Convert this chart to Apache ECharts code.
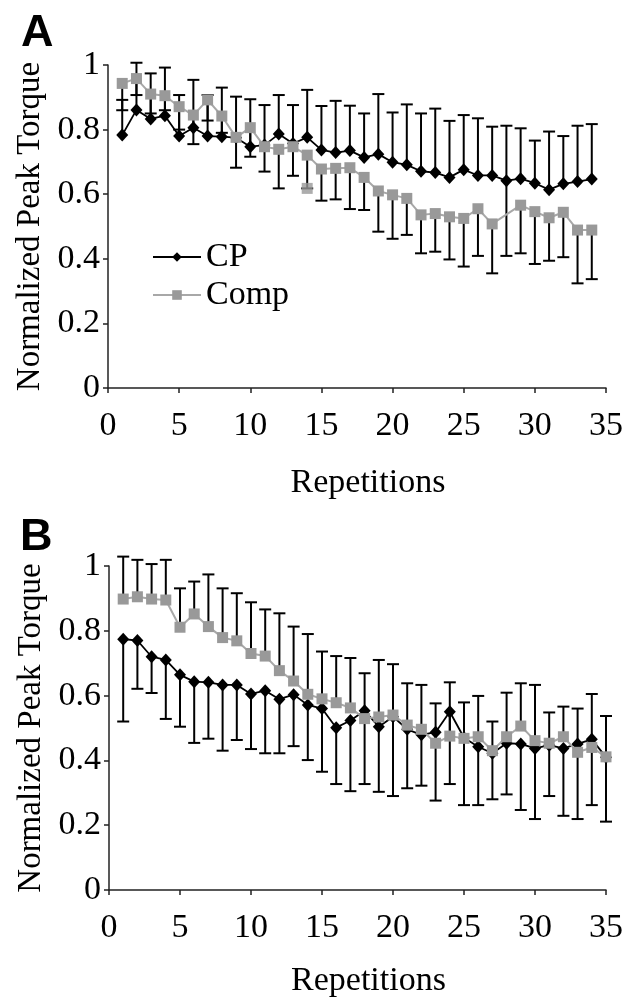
<!DOCTYPE html>
<html>
<head>
<meta charset="utf-8">
<script src="https://cdn.jsdelivr.net/npm/echarts@6/dist/echarts.min.js"></script>
<style>
  html, body { margin: 0; padding: 0; background: #fff; }
  #chart { width: 638px; height: 1005px; }
</style>
</head>
<body>
<div id="chart"></div>
<script>
// panel A data
const repsA = [1,2,3,4,5,6,7,8,9,10,11,12,13,14,15,16,17,18,19,20,21,22,23,24,25,26,27,28,29,30,31,32,33,34];
const cpA = [0.783,0.861,0.833,0.843,0.780,0.806,0.780,0.778,0.775,0.747,0.752,0.786,0.757,0.776,0.737,0.729,0.735,0.714,0.724,0.699,
  0.691,0.671,0.667,0.652,0.676,0.658,0.658,0.642,0.648,0.634,0.614,0.632,0.639,0.647];
const cpHiA = [0.892,1.007,0.974,0.992,0.907,0.954,0.907,0.930,0.902,0.894,0.876,0.907,0.876,0.923,0.873,0.889,0.874,0.850,0.910,0.853,
  0.878,0.850,0.865,0.827,0.845,0.835,0.809,0.812,0.804,0.766,0.794,0.780,0.812,0.817];
const compA = [0.943,0.958,0.910,0.905,0.871,0.845,0.892,0.842,0.776,0.806,0.747,0.739,0.747,0.721,0.678,0.680,0.682,0.652,0.610,0.598,
  0.587,0.536,0.540,0.530,0.525,0.555,0.508,null,0.566,0.546,0.527,0.544,0.489,0.489];
const compLoA = [0.860,0.907,0.850,0.860,0.800,0.755,0.828,0.790,0.682,0.716,0.670,0.618,0.657,0.618,0.580,0.584,0.554,0.551,0.484,0.462,
  0.474,0.417,0.422,0.398,0.376,0.409,0.355,0.409,0.417,0.384,0.394,0.405,0.324,0.337];
const compExtraA = [[14, 0.618]];

// panel B data
const repsB = [1,2,3,4,5,6,7,8,9,10,11,12,13,14,15,16,17,18,19,20,21,22,23,24,25,26,27,28,29,30,31,32,33,34,35];
const cpB = [0.774,0.770,0.720,0.710,0.664,0.643,0.641,0.633,0.633,0.605,0.615,0.589,0.603,0.571,0.560,0.501,0.523,0.553,0.504,0.535,
  0.496,0.479,0.487,0.550,0.470,0.442,0.422,0.453,0.451,0.437,0.447,0.437,0.451,0.465,0.410];
const cpLoB = [0.520,0.621,0.608,0.528,0.504,0.454,0.467,0.430,0.463,0.435,0.422,0.422,0.444,0.401,0.365,0.327,0.305,0.327,0.303,0.290,
  0.314,0.322,0.276,0.327,0.262,0.262,0.280,0.295,0.247,0.219,0.290,0.229,0.219,0.262,0.211];
const compB = [0.898,0.905,0.898,0.895,0.811,0.852,0.813,0.779,0.769,0.730,0.722,0.677,0.645,0.604,0.590,0.578,0.562,0.529,0.534,0.540,
  0.509,0.496,0.453,0.475,0.468,0.473,0.430,0.473,0.506,0.461,0.453,0.473,0.425,0.440,0.411];
const compHiB = [1.029,1.019,1.006,1.019,0.931,0.952,0.974,0.931,0.916,0.888,0.866,0.854,0.813,0.790,0.736,0.722,0.716,0.669,0.710,0.697,
  0.638,0.633,0.576,0.641,0.579,0.599,0.520,0.609,0.638,0.633,0.548,0.566,0.560,0.605,0.537];

const serif = 'Liberation Serif';

// vertical SD bars with a cap at the far end
function errorBars(xs, from, to, idx) {
  return {
    type: 'custom',
    xAxisIndex: idx,
    yAxisIndex: idx,
    silent: true,
    z: 1,
    encode: { x: 0, y: [1, 2] },
    data: xs.map((x, i) => [x, from[i], to[i]]),
    renderItem: function (params, api) {
      const p0 = api.coord([api.value(0), api.value(1)]);
      const p1 = api.coord([api.value(0), api.value(2)]);
      const hw = 6;
      return {
        type: 'group',
        children: [
          { type: 'line', shape: { x1: p0[0], y1: p0[1], x2: p1[0], y2: p1[1] }, style: { stroke: '#000', lineWidth: 2 } },
          { type: 'line', shape: { x1: p1[0] - hw, y1: p1[1], x2: p1[0] + hw, y2: p1[1] }, style: { stroke: '#000', lineWidth: 2 } }
        ]
      };
    }
  };
}

function xAxisFor(idx, gap) {
  return {
    type: 'value', gridIndex: idx, min: 0, max: 35, interval: 5,
    axisLine: { show: true, lineStyle: { color: '#222', width: 1.5 } },
    axisTick: { show: true, length: 5, lineStyle: { color: '#222', width: 1.5 } },
    splitLine: { show: false },
    axisLabel: { fontFamily: serif, fontSize: 34, color: '#000', margin: 21 },
    name: 'Repetitions', nameLocation: 'middle', nameGap: gap,
    nameTextStyle: { fontFamily: serif, fontSize: 34, color: '#000', padding: [0, 0, 0, 22] }
  };
}

function yAxisFor(idx) {
  return {
    type: 'value', gridIndex: idx, min: 0, max: 1, interval: 0.2,
    axisLine: { show: true, lineStyle: { color: '#222', width: 1.5 } },
    axisTick: { show: true, length: 5, lineStyle: { color: '#222', width: 1.5 } },
    splitLine: { show: false },
    axisLabel: { fontFamily: serif, fontSize: 34, color: '#000', margin: 8 },
    name: 'Normalized Peak Torque', nameLocation: 'middle', nameGap: 60,
    nameTextStyle: { fontFamily: serif, fontSize: 33, color: '#000' }
  };
}

function cpSeries(xs, ys, idx) {
  return {
    name: 'CP', type: 'line', xAxisIndex: idx, yAxisIndex: idx, z: 3,
    data: xs.map((x, i) => [x, ys[i]]),
    symbol: 'diamond', symbolSize: [12, 13],
    itemStyle: { color: '#000' },
    lineStyle: { color: '#000', width: 1.8 }
  };
}

function compSeries(xs, ys, idx) {
  return {
    name: 'Comp', type: 'line', xAxisIndex: idx, yAxisIndex: idx, z: 4,
    data: xs.map((x, i) => [x, ys[i]]),
    connectNulls: true,
    symbol: 'rect', symbolSize: 11,
    itemStyle: { color: '#999' },
    lineStyle: { color: '#a8a8a8', width: 2 }
  };
}

const chart = echarts.init(document.getElementById('chart'));
chart.setOption({
  animation: false,
  backgroundColor: '#fff',
  grid: [
    { left: 108, top: 65, width: 498, height: 323 },
    { left: 109, top: 566, width: 497, height: 324 }
  ],
  xAxis: [xAxisFor(0, 78), xAxisFor(1, 74)],
  yAxis: [yAxisFor(0), yAxisFor(1)],
  legend: {
    data: ['CP', 'Comp'], orient: 'vertical', left: 152, top: 240, padding: 0,
    itemWidth: 48, itemHeight: 12, itemGap: 4,
    textStyle: { fontFamily: serif, fontSize: 34, color: '#000' }
  },
  graphic: [
    { type: 'text', left: 21, top: 11, style: { text: 'A', font: 'bold 45px "Liberation Sans"', fill: '#000' } },
    { type: 'text', left: 20, top: 515, style: { text: 'B', font: 'bold 45px "Liberation Sans"', fill: '#000' } }
  ],
  series: [
    errorBars(repsA, cpA, cpHiA, 0),
    errorBars(repsA, compA.map((v, i) => v == null ? cpA[i] : v), compLoA, 0),
    cpSeries(repsA, cpA, 0),
    compSeries(repsA, compA, 0),
    {
      name: 'Comp extra', type: 'scatter', xAxisIndex: 0, yAxisIndex: 0, z: 4,
      data: compExtraA, symbol: 'rect', symbolSize: 11, itemStyle: { color: '#999' }
    },
    errorBars(repsB, cpB, cpLoB, 1),
    errorBars(repsB, compB, compHiB, 1),
    cpSeries(repsB, cpB, 1),
    compSeries(repsB, compB, 1)
  ]
});
</script>
</body>
</html>
